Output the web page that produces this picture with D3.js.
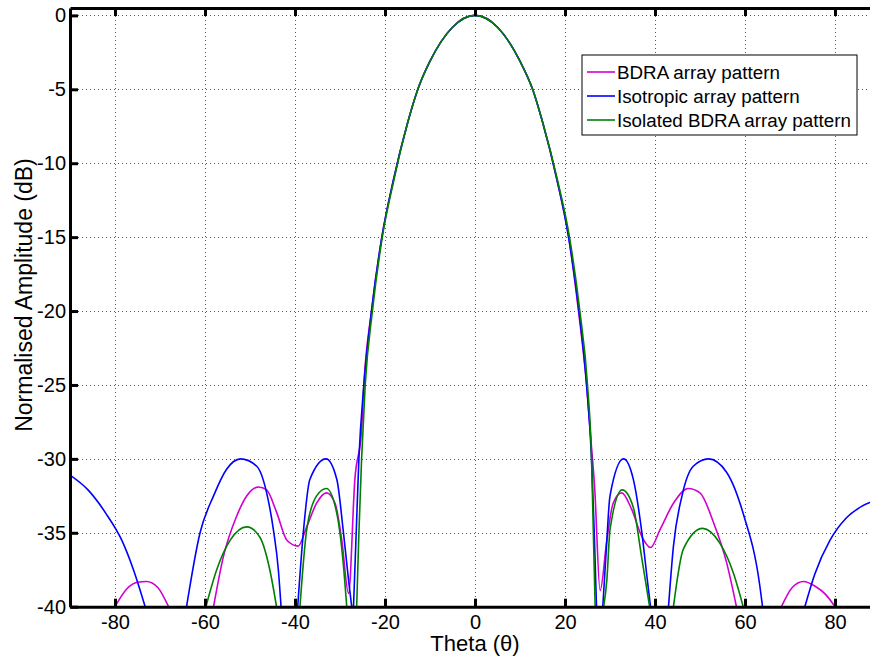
<!DOCTYPE html>
<html>
<head>
<meta charset="utf-8">
<script src="https://cdn.jsdelivr.net/npm/d3@7"></script>
<style>
  body { margin: 0; background: #fff; }
  svg { display: block; font-family: "Liberation Sans", Arial, sans-serif; }
</style>
</head>
<body>
<svg id="chart" width="870" height="662"></svg>
<script>
// Array pattern comparison: BDRA vs isotropic vs isolated BDRA
// Values as [theta (deg), normalised amplitude (dB)], null = gap below -40 dB

const xTicks = [-80, -60, -40, -20, 0, 20, 40, 60, 80];
const yTicks = [0, -5, -10, -15, -20, -25, -30, -35, -40];

const seriesNames = ["BDRA array pattern", "Isotropic array pattern", "Isolated BDRA array pattern"];

const bdraPattern = [
  [-80, -40], [-77.4, -38.8], [-75, -38.35], [-73, -38.3], [-70.5, -38.7], [-68.1, -40],
  null,
  [-58.1, -40], [-55.9, -36.6], [-53, -33.9], [-50.7, -32.5], [-48.1, -31.9], [-46.3, -32.1],
  [-44.1, -33.6], [-41.8, -35.5], [-39.3, -35.9], [-37.4, -34.6], [-35.2, -33.0], [-33.0, -32.3],
  [-31.1, -33.0], [-29.6, -35.5], [-28.1, -39.1], [-26.7, -31.4], [-25.2, -28], [-24.7, -25],
  [-23, -20], [-20.7, -15], [-18.1, -11.1], [-15, -7.3], [-12.7, -5], [-10, -3.1], [-5, -0.8],
  [0, 0], [5, -0.8], [10, -3.1], [12.8, -5], [15, -7.2], [18.2, -11.1], [20.8, -15], [23, -20],
  [24.8, -25], [25.7, -28.5], [26.6, -32], [27.8, -38.9], [29.3, -35.5], [30.7, -33], [32.6, -32.3],
  [34.8, -33.4], [37, -35.2], [39, -36], [41.1, -34.8], [44.1, -33], [47.4, -32], [50, -32.3],
  [53, -34.3], [55.9, -37], [58.1, -40],
  null,
  [68.1, -40], [70.5, -38.7], [73, -38.3], [75.5, -38.6], [78, -39.2], [80, -40]
];

const isotropicPattern = [
  [-90, -31.1], [-86, -32.1], [-82, -33.7], [-78.5, -35.5], [-75.9, -37.5], [-73.3, -40],
  null,
  [-64.1, -40], [-61.1, -35], [-58.1, -32.5], [-55.2, -30.7], [-52.1, -30], [-48.5, -30.5],
  [-46.3, -32.3], [-44.8, -34.8], [-43.7, -37.5], [-43.1, -40],
  null,
  [-39.4, -40], [-38.1, -34.8], [-36.7, -31.4], [-33.1, -30], [-30.7, -31.4], [-29.3, -34.8],
  [-28.1, -38.2], [-27.4, -40],
  null,
  [-27.0, -40], [-26.4, -35], [-25.8, -30], [-24.7, -25], [-23, -20], [-20.7, -15], [-18.1, -11.1],
  [-15, -7.3], [-12.7, -5], [-10, -3.1], [-5, -0.8], [0, 0], [5, -0.8], [10, -3.1], [12.8, -5],
  [15, -7.2], [18.2, -11.1], [20.8, -15], [23.1, -20], [24.8, -25], [25.9, -30], [26.5, -35], [27.0, -40],
  null,
  [28.4, -40], [29.2, -36], [30, -32.5], [33, -30], [35.2, -31.4], [37, -34.8], [38.3, -38.2], [39, -40],
  null,
  [43, -40], [44.1, -35.9], [46, -32.5], [48.5, -30.5], [51.9, -30], [55.9, -30.9], [59.6, -33.7],
  [63.3, -38.6], [63.9, -40],
  null,
  [73.3, -40], [75.5, -37.8], [78.9, -35.5], [82.5, -34], [86, -33.2], [90, -32.7]
];

const isolatedPattern = [
  [-59.8, -40], [-57.4, -37.5], [-54.4, -35.5], [-50.7, -34.6], [-47.8, -35.3], [-45.6, -37.5], [-44.1, -40],
  null,
  [-38.9, -40], [-37.4, -34.8], [-35.2, -32.5], [-33, -32], [-30.7, -33.7], [-29.3, -37], [-28.5, -40],
  null,
  [-26.3, -40], [-25.8, -35], [-25.2, -30], [-24.4, -25], [-22.8, -20], [-20.6, -15], [-18, -11.1],
  [-15, -7.3], [-12.7, -5], [-10, -3.1], [-5, -0.8], [0, 0], [5, -0.8], [10, -3.1], [12.8, -5],
  [15, -7.2], [18.3, -11.1], [21, -15], [23.3, -20], [25, -25], [25.9, -30], [26.3, -35], [26.7, -40],
  null,
  [28.6, -40], [29.3, -38.2], [30, -34.8], [32.7, -32.1], [35.2, -33.3], [37, -36.6], [38.8, -40],
  null,
  [44.1, -40], [46.3, -36.1], [50.6, -34.7], [54.4, -35.7], [57.4, -37.7], [59.6, -40]
];

const svg = d3.select("#chart");
const margin = { top: 8, left: 70 };
const plotW = 810, plotH = 598.7;

const x = d3.scaleLinear().domain([-90, 90]).range([margin.left, margin.left + plotW]);
const y = d3.scaleLinear().domain([-40, 0.5]).range([margin.top + plotH, margin.top]);

const color = d3.scaleOrdinal()
  .domain(seriesNames)
  .range(["#d000d0", "#0000ff", "#008000"]);

svg.append("defs").append("clipPath").attr("id", "plotClip")
  .append("rect")
  .attr("x", margin.left).attr("y", margin.top)
  .attr("width", plotW).attr("height", plotH);

// Grid
const grid = svg.append("g")
  .attr("stroke", "#555")
  .attr("stroke-width", 1)
  .attr("stroke-dasharray", "1,3");

grid.selectAll("line.v")
  .data(xTicks)
  .join("line")
  .attr("class", "v")
  .attr("x1", d => Math.round(x(d)) + 0.5).attr("x2", d => Math.round(x(d)) + 0.5)
  .attr("y1", margin.top).attr("y2", margin.top + plotH);

grid.selectAll("line.h")
  .data(yTicks)
  .join("line")
  .attr("class", "h")
  .attr("x1", margin.left).attr("x2", margin.left + plotW)
  .attr("y1", d => Math.round(y(d)) + 0.5).attr("y2", d => Math.round(y(d)) + 0.5);

// Curves
const line = d3.line()
  .defined(d => d !== null)
  .x(d => x(d[0]))
  .y(d => y(d[1]))
  .curve(d3.curveMonotoneX);

const curves = svg.append("g").attr("clip-path", "url(#plotClip)");
[[seriesNames[0], bdraPattern], [seriesNames[1], isotropicPattern], [seriesNames[2], isolatedPattern]]
  .forEach(([name, pts]) => {
    curves.append("path")
      .attr("fill", "none")
      .attr("stroke", color(name))
      .attr("stroke-width", 1.6)
      .attr("d", line(pts));
  });

// Axes (box with inward ticks), plain hyphen labels like the original
const tickLen = 8;
const fmt = d => String(d);
const axisBottom = svg.append("g")
  .attr("transform", `translate(0,${margin.top + plotH})`)
  .call(d3.axisBottom(x).tickValues(xTicks).tickFormat(fmt).tickSizeInner(-tickLen).tickSizeOuter(0).tickPadding(8));
const axisTop = svg.append("g")
  .attr("transform", `translate(0,${margin.top})`)
  .call(d3.axisTop(x).tickValues(xTicks).tickSizeInner(-tickLen).tickSizeOuter(0).tickFormat(""));
const axisLeft = svg.append("g")
  .attr("transform", `translate(${margin.left},0)`)
  .call(d3.axisLeft(y).tickValues(yTicks).tickFormat(fmt).tickSizeInner(-tickLen).tickSizeOuter(0).tickPadding(4));

[axisBottom, axisTop, axisLeft].forEach(a => {
  a.select(".domain").attr("stroke", "#000").attr("stroke-width", 3);
  a.selectAll(".tick line").attr("stroke", "#000").attr("stroke-width", 3);
  a.selectAll(".tick text").attr("fill", "#000").style("font-size", "20px")
    .style("font-family", "'Liberation Sans', Arial, sans-serif");
});

// Axis titles
svg.append("text")
  .attr("x", x(0))
  .attr("y", 651)
  .attr("text-anchor", "middle")
  .style("font-size", "22px")
  .text("Theta (θ)");

svg.append("text")
  .attr("transform", "rotate(-90)")
  .attr("x", -295)
  .attr("y", 32)
  .attr("text-anchor", "middle")
  .style("font-size", "23px")
  .text("Normalised Amplitude (dB)");

// Legend
const legend = svg.append("g").attr("transform", "translate(582,55)");
legend.append("rect")
  .attr("width", 275).attr("height", 80)
  .attr("fill", "#fff").attr("stroke", "#000").attr("stroke-width", 1);

seriesNames.forEach((name, i) => {
  const row = legend.append("g").attr("transform", `translate(0,${17 + i * 24})`);
  row.append("line")
    .attr("x1", 5).attr("x2", 33)
    .attr("stroke", color(name)).attr("stroke-width", 1.6);
  row.append("text")
    .attr("x", 35).attr("y", 6.5)
    .style("font-size", "18.8px")
    .text(name);
});
</script>
</body>
</html>
